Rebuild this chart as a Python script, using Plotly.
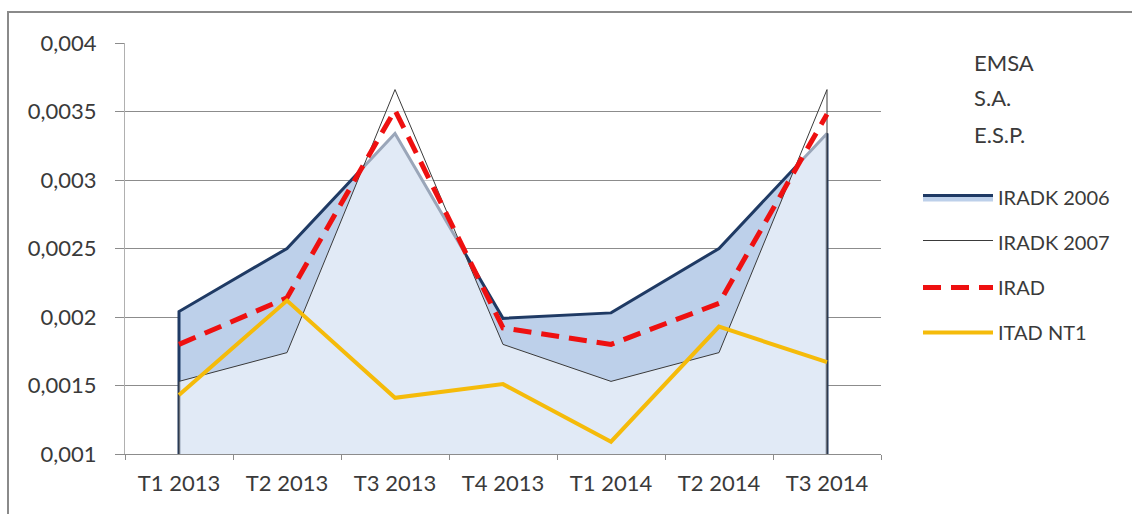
import plotly.graph_objects as go

# ---- data ----
categories = ["T1 2013", "T2 2013", "T3 2013", "T4 2013", "T1 2014", "T2 2014", "T3 2014"]
iradk_2006 = [0.00204, 0.00250, 0.00334, 0.00199, 0.00203, 0.00250, 0.00334]
iradk_2007 = [0.00153, 0.00174, 0.00366, 0.00180, 0.00153, 0.00174, 0.00366]
irad = [0.00180, 0.00214, 0.00351, 0.00192, 0.00180, 0.00210, 0.00348]
itad_nt1 = [0.00143, 0.00212, 0.00141, 0.00151, 0.00109, 0.00193, 0.00167]
y_tickvals = [0.001, 0.0015, 0.002, 0.0025, 0.003, 0.0035, 0.004]
y_ticktext = ["0,001", "0,0015", "0,002", "0,0025", "0,003", "0,0035", "0,004"]
title_lines = ["EMSA", "S.A.", "E.S.P."]

# ---- layout geometry ----
W, H = 1132, 514
ML, MR, MT, MB = 125, 251, 43, 60
PW, PH = W - ML - MR, H - MT - MB
y_min, y_max = y_tickvals[0], y_tickvals[-1]


def px_x(px):
    return (px - ML) / PW


def px_y(py):
    return (H - MB - py) / PH


def closed_area(vals):
    xs = [categories[0]] + categories + [categories[-1]]
    ys = [y_min] + vals + [y_min]
    return xs, ys


FONT = "Lato"
TXT = "#3a3a3a"

fig = go.Figure()

x6, y6 = closed_area(iradk_2006)
fig.add_trace(go.Scatter(
    x=x6, y=y6, name="IRADK 2006", mode="lines", fill="toself",
    fillcolor="#bdd0ea", line=dict(color="#1f3a64", width=3),
    legendgroup="a", hoverinfo="skip"))

x7, y7 = closed_area(iradk_2007)
fig.add_trace(go.Scatter(
    x=x7, y=y7, name="IRADK 2007", mode="lines", fill="toself",
    fillcolor="rgba(255,255,255,0.55)", line=dict(color="#3a3a3a", width=1),
    legendgroup="b", hoverinfo="skip"))

fig.add_trace(go.Scatter(
    x=categories, y=irad, name="IRAD", mode="lines",
    line=dict(color="#ee1010", width=5, dash="18px,10px"),
    legendgroup="c"))

fig.add_trace(go.Scatter(
    x=categories, y=itad_nt1, name="ITAD NT1", mode="lines",
    line=dict(color="#f5bb0a", width=4),
    legendgroup="d"))

annotations = []
for t, py in zip(title_lines, [62, 98, 134]):
    annotations.append(dict(
        text=t, x=px_x(972), y=px_y(py), xref="paper", yref="paper",
        xanchor="left", yanchor="middle", showarrow=False,
        font=dict(family=FONT, size=22, color=TXT)))

fig.update_layout(
    width=W, height=H,
    margin=dict(l=ML, r=MR, t=MT, b=MB),
    paper_bgcolor="white", plot_bgcolor="white",
    font=dict(family=FONT, color=TXT),
    showlegend=True,
    legend=dict(
        x=px_x(918), y=px_y(178), xanchor="left", yanchor="top",
        traceorder="grouped", tracegroupgap=16, itemwidth=70,
        font=dict(family=FONT, size=20, color=TXT),
        bgcolor="rgba(0,0,0,0)"),
    annotations=annotations,
    shapes=[dict(
        type="rect", xref="paper", yref="paper",
        x0=px_x(8), x1=px_x(W + 10), y0=px_y(H + 10), y1=px_y(12),
        line=dict(color="#8a8a8a", width=2), fillcolor="rgba(0,0,0,0)",
        layer="below")],
)

fig.update_xaxes(
    type="category", range=[-0.5, len(categories) - 0.5],
    showgrid=False, showline=True, linecolor="#8c8c8c", linewidth=1,
    ticks="outside", tickson="boundaries", ticklen=5, tickcolor="#8c8c8c",
    tickfont=dict(family=FONT, size=22, color=TXT), ticklabelstandoff=10)

fig.update_yaxes(
    range=[y_min, y_max], tickvals=y_tickvals, ticktext=y_ticktext,
    showgrid=True, gridcolor="#8c8c8c", gridwidth=1, zeroline=False,
    showline=True, linecolor="#b0b0b0", linewidth=1,
    ticks="outside", ticklen=9, tickcolor="#8c8c8c",
    tickfont=dict(family=FONT, size=22, color=TXT), ticklabelstandoff=14)

fig.write_html("out.html")
